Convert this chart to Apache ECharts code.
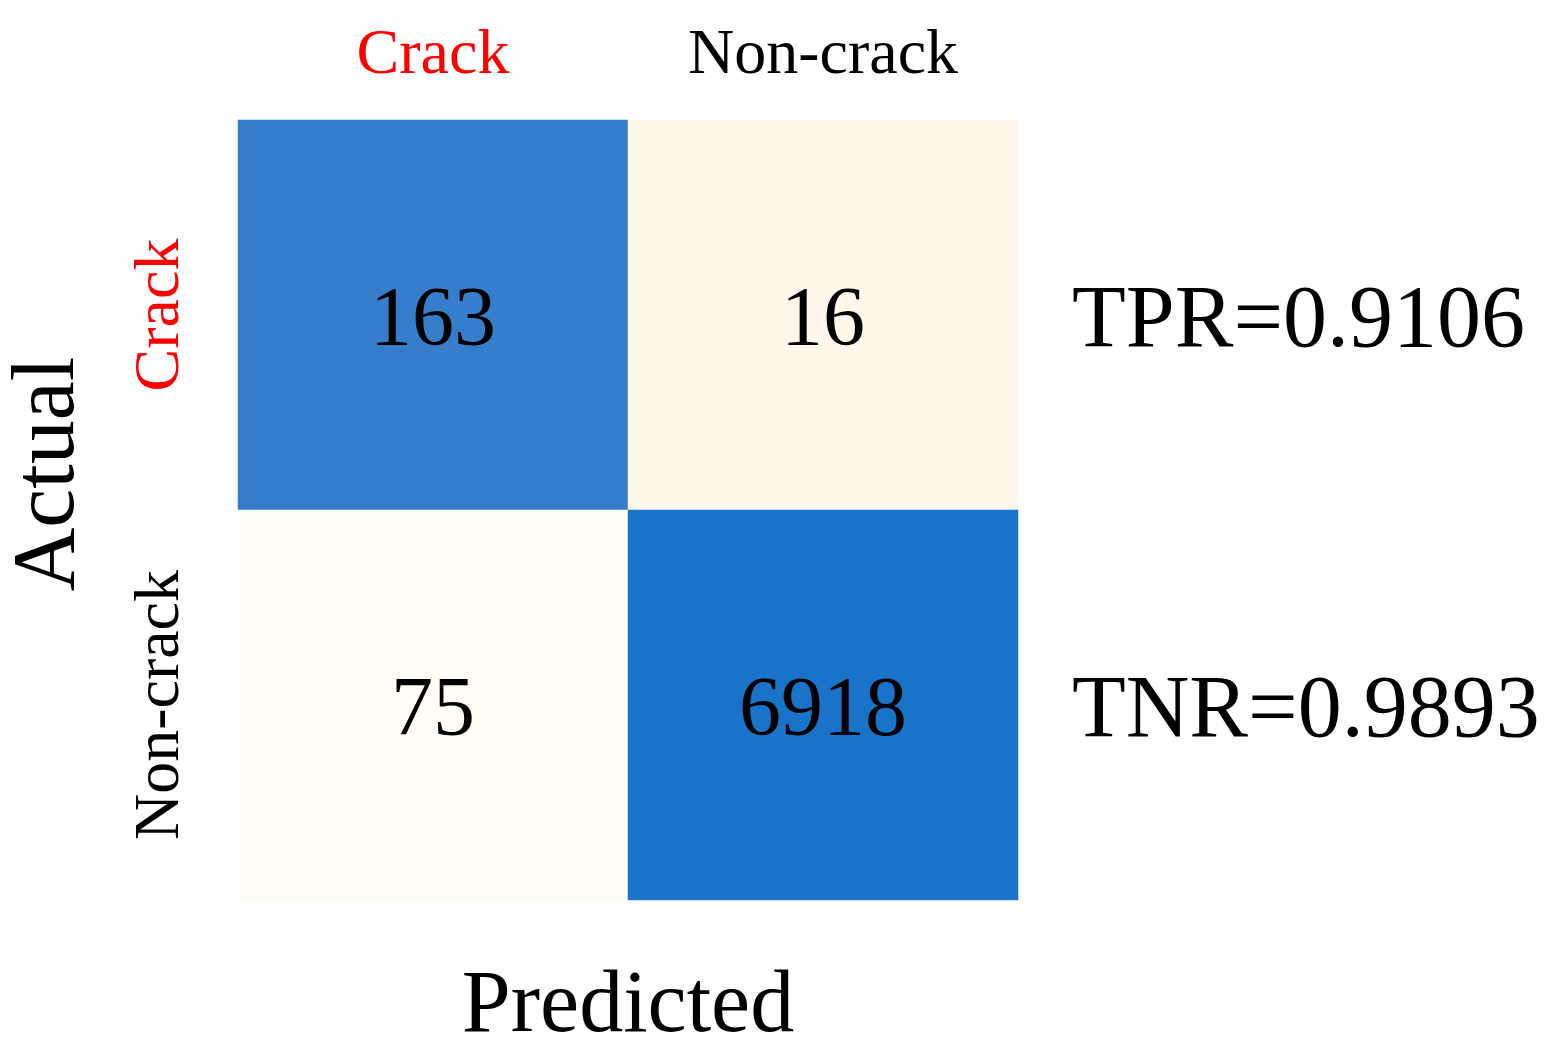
<!DOCTYPE html>
<html>
<head>
<meta charset="utf-8">
<script src="https://cdn.jsdelivr.net/npm/echarts@6/dist/echarts.min.js"></script>
<style>html,body{margin:0;padding:0;background:#fff;}#c{width:1554px;height:1056px;}</style>
</head>
<body>
<div id="c"></div>
<script>
const predictedLabels = ['Crack', 'Non-crack'];
const actualLabels = ['Crack', 'Non-crack'];
const counts = [[163, 16], [75, 6918]]; // rows: actual, cols: predicted
const rateNames = ['TPR', 'TNR'];
const cmapColors = ['#FFFEF8', '#FFF7E8', '#F4E9CF', '#DCE3E8', '#BFD3EC', '#9DBEE6', '#7CA8DF', '#5C94D7', '#4487D0', '#3A7FCC', '#1572C9'];

const FONT = '"Liberation Serif", "Times New Roman", serif';
const rowSums = counts.map(r => r.reduce((a, b) => a + b, 0));
const data = [];
counts.forEach((row, yi) => row.forEach((v, xi) => data.push([xi, yi, v / rowSums[yi], v])));
const rateLabels = rateNames.map((n, i) => n + '=' + (counts[i][i] / rowSums[i]).toFixed(4));
const labelColor = v => (v === 'Crack' ? '#FF0000' : '#000000');

const chart = echarts.init(document.getElementById('c'));
chart.setOption({
  backgroundColor: '#ffffff',
  animation: false,
  grid: { left: 238, right: 536, top: 120, bottom: 156, outerBoundsMode: 'none', containLabel: false },
  xAxis: [
    {
      type: 'category', data: predictedLabels, position: 'top',
      axisLine: { show: false }, axisTick: { show: false }, splitLine: { show: false },
      axisLabel: { fontFamily: FONT, fontSize: 64, margin: 32, color: labelColor }
    },
    {
      type: 'category', data: predictedLabels, position: 'bottom',
      axisLine: { show: false }, axisTick: { show: false }, axisLabel: { show: false },
      name: 'Predicted', nameLocation: 'middle', nameGap: 64,
      nameTextStyle: { fontFamily: FONT, fontSize: 88, color: '#000' }
    }
  ],
  yAxis: [
    {
      type: 'category', data: actualLabels, inverse: true,
      axisLine: { show: false }, axisTick: { show: false }, splitLine: { show: false },
      axisLabel: { fontFamily: FONT, fontSize: 64, rotate: 90, margin: 45, color: labelColor },
      name: 'Actual', nameLocation: 'middle', nameGap: 144, nameRotate: 90,
      nameTextStyle: { fontFamily: FONT, fontSize: 88, color: '#000', padding: [0, 0, 0, 72] }
    },
    {
      type: 'category', data: rateLabels, inverse: true, position: 'right',
      axisLine: { show: false }, axisTick: { show: false }, splitLine: { show: false },
      axisLabel: {
        margin: 54, formatter: v => '{r|' + v + '}',
        rich: { r: { fontFamily: FONT, fontSize: 88, color: '#000', padding: [16, 0, 0, 0] } }
      }
    }
  ],
  visualMap: {
    show: false, type: 'continuous', dimension: 2, min: 0, max: 1,
    inRange: { color: cmapColors }
  },
  series: [{
    type: 'heatmap', xAxisIndex: 0, yAxisIndex: 0, data: data,
    label: {
      show: true, fontFamily: FONT, fontSize: 84, color: '#000', offset: [0, 8],
      formatter: p => String(p.data[3])
    },
    emphasis: { disabled: true }
  }]
});
</script>
</body>
</html>
